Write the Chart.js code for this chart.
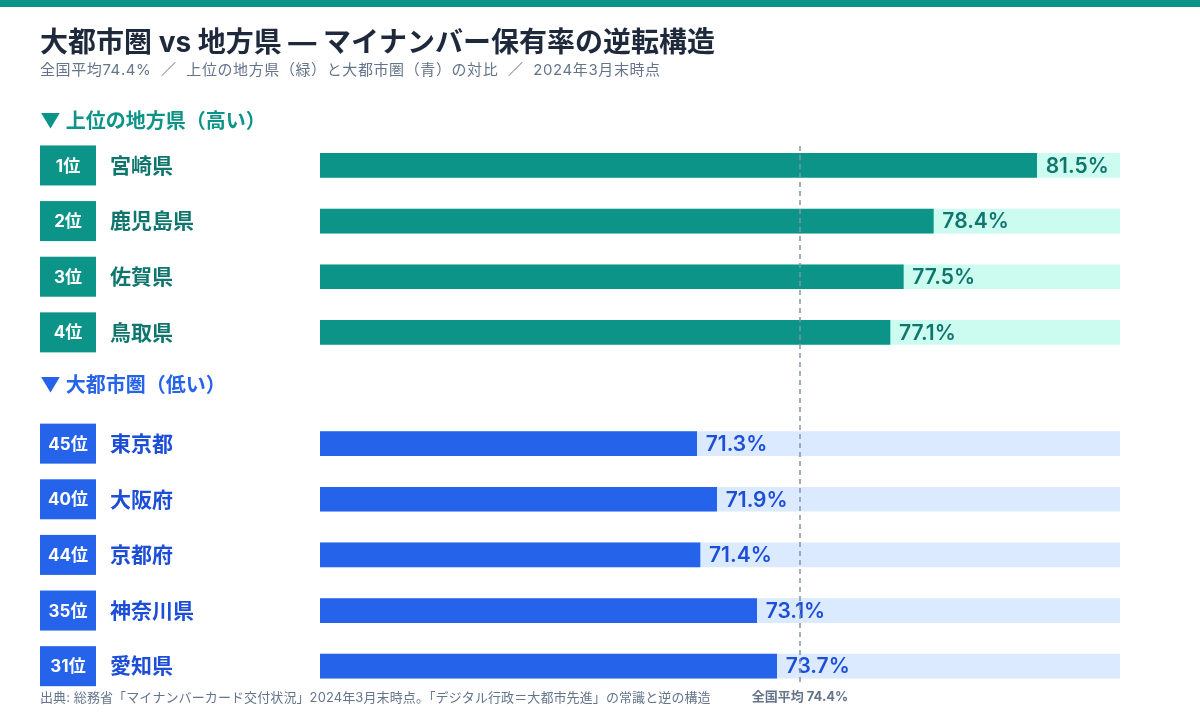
<!DOCTYPE html>
<html lang="ja">
<head>
<meta charset="utf-8">
<title>大都市圏 vs 地方県 — マイナンバー保有率</title>
<script src="https://cdn.jsdelivr.net/npm/chart.js@4.4.1/dist/chart.umd.min.js"></script>
<style>
  html, body { margin: 0; padding: 0; background: #ffffff; }
  .wrap { position: relative; width: 1200px; height: 720px; }
</style>
</head>
<body>
<div class="wrap"><canvas id="rateChart" width="1200" height="720"></canvas></div>
<script>
// data
const localPrefs = ['宮崎県', '鹿児島県', '佐賀県', '鳥取県'];
const localRanks = [1, 2, 3, 4];
const localRates = [81.5, 78.4, 77.5, 77.1];

const metroPrefs = ['東京都', '大阪府', '京都府', '神奈川県', '愛知県'];
const metroRanks = [45, 40, 44, 35, 31];
const metroRates = [71.3, 71.9, 71.4, 73.1, 73.7];

const nationalAverage = 74.4;
const axisMin = 60;
const axisMax = 84;

const localHeader = '▼ 上位の地方県（高い）';
const metroHeader = '▼ 大都市圏（低い）';

// build rows: header, locals, header, metros
const labels = [localHeader, ...localPrefs, metroHeader, ...metroPrefs];
const values = [null, ...localRates, null, ...metroRates];
const ranks = [null, ...localRanks, null, ...metroRanks];
const groups = ['h', ...localPrefs.map(() => 'local'), 'h', ...metroPrefs.map(() => 'metro')];
const track = values.map(v => v === null ? null : axisMax);

const colors = {
  local: { bar: '#0d9488', track: '#ccfbef', text: '#0f766e' },
  metro: { bar: '#2563eb', track: '#dbeafe', text: '#1d4ed8' }
};

const FONT = 'Inter, "Noto Sans CJK JP", "Noto Sans", sans-serif';

const decorPlugin = {
  id: 'decor',
  beforeDraw(chart) {
    const c = chart.ctx;
    c.save();
    c.fillStyle = '#0d9488';
    c.fillRect(0, 0, chart.width, 7);
    c.fillStyle = '#1e293b';
    c.font = 'bold 28px ' + FONT;
    c.textBaseline = 'middle';
    c.fillText('大都市圏 vs 地方県 — マイナンバー保有率の逆転構造', 40, 44);
    c.fillStyle = '#64748b';
    c.font = '15px ' + FONT;
    c.letterSpacing = '0.6px';
    c.fillText('全国平均74.4%  ／  上位の地方県（緑）と大都市圏（青）の対比  ／  2024年3月末時点', 40, 70);
    c.letterSpacing = '0px';
    c.restore();
  },
  afterDatasetsDraw(chart) {
    const c = chart.ctx;
    const y = chart.scales.y;
    const x = chart.scales.x;
    c.save();
    c.textBaseline = 'middle';
    labels.forEach((lab, i) => {
      const py = y.getPixelForValue(i);
      if (groups[i] === 'h') {
        const isLocal = i === 0;
        c.fillStyle = isLocal ? colors.local.bar : colors.metro.bar;
        c.font = 'bold 20px ' + FONT;
        c.fillText(lab, 40, py + (isLocal ? 12 : -2));
        return;
      }
      const col = colors[groups[i]];
      // rank badge
      c.fillStyle = col.bar;
      c.fillRect(40, py - 20, 56, 40);
      c.fillStyle = '#ffffff';
      c.font = 'bold 17px ' + FONT;
      c.textAlign = 'center';
      c.fillText(ranks[i] + '位', 68, py + 1);
      // name
      c.textAlign = 'left';
      c.fillStyle = col.text;
      c.font = 'bold 21px ' + FONT;
      c.fillText(lab, 110, py + 1);
      // value
      c.font = '600 21px ' + FONT;
      c.fillText(values[i].toFixed(1) + '%', x.getPixelForValue(values[i]) + 9, py + 1);
    });
    // national average line
    const ax = x.getPixelForValue(nationalAverage);
    c.strokeStyle = '#8393aa';
    c.lineWidth = 1.5;
    c.setLineDash([5, 4]);
    c.beginPath();
    c.moveTo(ax, 146);
    c.lineTo(ax, 686);
    c.stroke();
    c.setLineDash([]);
    c.fillStyle = '#64748b';
    c.font = 'bold 13px ' + FONT;
    c.textAlign = 'center';
    c.fillText('全国平均 ' + nationalAverage + '%', ax, 697);
    c.textAlign = 'left';
    c.font = '13px ' + FONT;
    c.letterSpacing = '0.1px';
    c.fillText('出典: 総務省「マイナンバーカード交付状況」2024年3月末時点。「デジタル行政＝大都市先進」の常識と逆の構造', 40, 698);
    c.letterSpacing = '0px';
    c.restore();
  }
};

new Chart(document.getElementById('rateChart'), {
  type: 'bar',
  data: {
    labels: labels,
    datasets: [
      {
        label: '保有率',
        data: values,
        backgroundColor: groups.map(g => g === 'h' ? 'transparent' : colors[g].bar),
        barThickness: 24,
        grouped: false,
        order: 1
      },
      {
        label: 'track',
        data: track,
        backgroundColor: groups.map(g => g === 'h' ? 'transparent' : colors[g].track),
        barThickness: 24,
        grouped: false,
        order: 2
      }
    ]
  },
  options: {
    indexAxis: 'y',
    responsive: false,
    animation: false,
    layout: { padding: { left: 320, right: 80, top: 82, bottom: 26 } },
    scales: {
      x: { min: axisMin, max: axisMax, display: false },
      y: { display: false }
    },
    plugins: {
      legend: { display: false },
      tooltip: { enabled: false }
    }
  },
  plugins: [decorPlugin]
});
</script>
</body>
</html>
